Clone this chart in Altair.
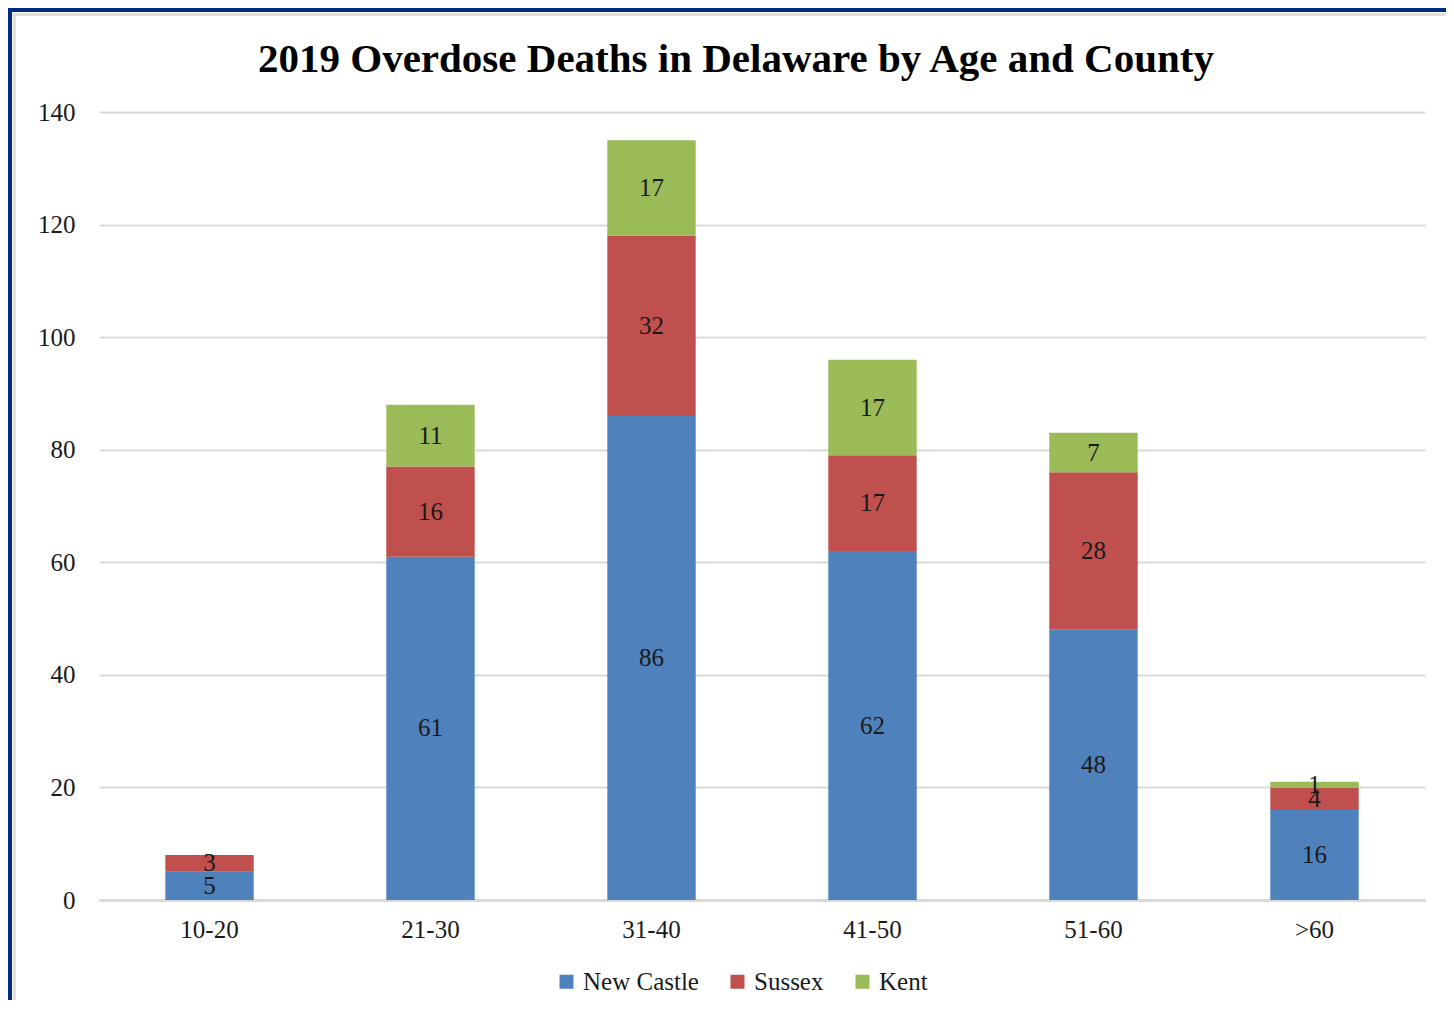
import altair as alt
import pandas as pd

ages = ["10-20", "21-30", "31-40", "41-50", "51-60", ">60"]
counties = ["New Castle", "Sussex", "Kent"]
new_castle = [5, 61, 86, 62, 48, 16]
sussex = [3, 16, 32, 17, 28, 4]
kent = [0, 11, 17, 17, 7, 1]
colors = ["#4f81bd", "#c0504d", "#9bbb59"]
title_text = "2019 Overdose Deaths in Delaware by Age and County"

rows = []
for i, a in enumerate(ages):
    for k, (c, vals) in enumerate(zip(counties, [new_castle, sussex, kent])):
        if vals[i] > 0:
            rows.append({"age": a, "county": c, "value": vals[i], "ord": k})
df = pd.DataFrame(rows)

W, H = 1326, 788
PL, PT, PR, PB = 91, 104, 21, 100
FONT = "Liberation Serif"
FS = 25

base = alt.Chart(df).transform_stack(
    stack="value", as_=["y0", "y1"], groupby=["age"], sort=[alt.SortField("ord")]
).transform_calculate(mid="(datum.y0 + datum.y1) / 2")

xenc = alt.X("age:N", sort=ages, title=None,
             scale=alt.Scale(paddingInner=0.6, paddingOuter=0.3),
             axis=alt.Axis(labelAngle=0, labelFont=FONT, labelFontSize=FS,
                           labelColor="#1a1a1a", labelPadding=17, ticks=False,
                           domainColor="#d9d9d9", domainWidth=3, grid=False))

bars = base.mark_bar().encode(
    x=xenc,
    y=alt.Y("y0:Q", title=None,
            scale=alt.Scale(domain=[0, 140], nice=False),
            axis=alt.Axis(values=[0, 20, 40, 60, 80, 100, 120, 140],
                          labelFont=FONT, labelFontSize=FS, labelColor="#1a1a1a",
                          labelPadding=24, ticks=False, domain=False,
                          gridColor="#d9d9d9", gridWidth=2)),
    y2="y1:Q",
    color=alt.Color("county:N", title=None,
                    scale=alt.Scale(domain=counties, range=colors),
                    legend=alt.Legend(orient="none", legendX=455, legendY=857,
                                      direction="horizontal", symbolType="square",
                                      symbolSize=196, symbolStrokeWidth=0,
                                      labelFont=FONT, labelFontSize=FS,
                                      labelColor="#1a1a1a", labelOffset=4,
                                      columnPadding=26)),
)

labels = base.mark_text(font=FONT, fontSize=FS, color="#1a1a1a", baseline="middle").encode(
    x=alt.X("age:N", sort=ages),
    y=alt.Y("mid:Q"),
    text="value:Q",
)

frame_data = alt.Data(values=[{"t": title_text}])
top_band = alt.Chart(frame_data).mark_rect(color="#002b80").encode(
    x=alt.value(-PL), x2=alt.value(W + PR), y=alt.value(-PT), y2=alt.value(-PT + 4))
left_band = alt.Chart(frame_data).mark_rect(color="#002b80").encode(
    x=alt.value(-PL), x2=alt.value(-PL + 4), y=alt.value(-PT), y2=alt.value(H + PB))
top_line = alt.Chart(frame_data).mark_rect(color="#e0e0e0").encode(
    x=alt.value(-PL + 5), x2=alt.value(W + PR), y=alt.value(-PT + 5), y2=alt.value(-PT + 8))
left_line = alt.Chart(frame_data).mark_rect(color="#e0e0e0").encode(
    x=alt.value(-PL + 5), x2=alt.value(-PL + 8), y=alt.value(-PT + 5), y2=alt.value(H + PB))
title = alt.Chart(frame_data).mark_text(
    font=FONT, fontSize=41, fontWeight="bold", color="#000000",
    align="center", baseline="alphabetic").encode(
    x=alt.value(637), y=alt.value(-40), text="t:N")

chart = alt.layer(top_band, left_band, top_line, left_line, bars, labels, title).properties(
    width=W, height=H,
    padding={"left": PL, "top": PT, "right": PR, "bottom": PB},
    autosize=alt.AutoSizeParams(type="none"),
    background="white",
).configure_view(stroke=None)

chart.save("out.html", embed_options={"renderer": "svg", "actions": False})
